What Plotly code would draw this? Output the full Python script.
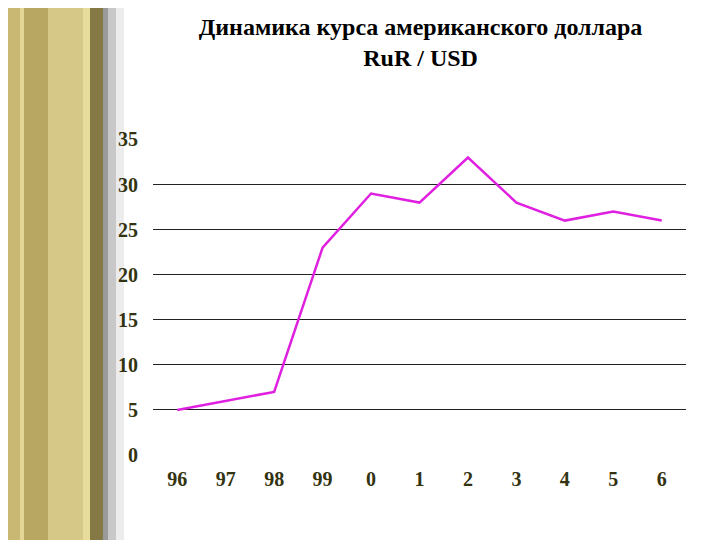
import plotly.graph_objects as go

years = ["96", "97", "98", "99", "0", "1", "2", "3", "4", "5", "6"]
rate = [5, 6, 7, 23, 29, 28, 33, 28, 26, 27, 26]
y_ticks = [0, 5, 10, 15, 20, 25, 30, 35]

fig = go.Figure(go.Scatter(x=years, y=rate, mode="lines",
                           line=dict(color="#e020e0", width=2.5)))

shapes = []
L, R = 145, 678
def px(x): return (x - L) / (R - L)
stripes = [(0, 12, "#c9b874"), (12, 16, "#e3d696"), (16, 40, "#b8a762"), (40, 75, "#d6c887"),
           (75, 82, "#e8dc9c"), (82, 95, "#857a45"), (95, 100, "#9a9a9a"), (100, 108, "#c8c8c8"), (108, 116, "#ececec")]
for a, b, c in stripes:
    shapes.append(dict(type="rect", xref="paper", yref="paper", x0=px(a), x1=px(b), y0=-1, y1=2,
                       fillcolor=c, line=dict(width=0), layer="below"))

fig.update_layout(
    width=720, height=540, paper_bgcolor="white", plot_bgcolor="white",
    margin=dict(l=L, r=720 - R, t=131, b=93), showlegend=False, shapes=shapes,
    title=dict(text="Динамика курса американского доллара<br>RuR / USD", x=0.573, xanchor="center",
               y=0.95, yanchor="top",
               font=dict(family="Liberation Serif", size=24, color="black", weight="bold")),
    font=dict(family="Liberation Serif", size=20, color="#333311"),
    xaxis=dict(type="category", range=[-0.5, 10.5], showgrid=False, showline=False,
               ticks="", tickfont=dict(family="Liberation Serif", size=20, color="#333311", weight="bold"),
               ticklabelstandoff=10),
    yaxis=dict(range=[0, 35.05], tickvals=y_ticks, showgrid=True, gridcolor="#222222", gridwidth=1,
               zeroline=False, showline=False, ticks="",
               tickfont=dict(family="Liberation Serif", size=20, color="#333311", weight="bold"),
               ticklabelstandoff=14),
)
fig.write_html("out.html")
